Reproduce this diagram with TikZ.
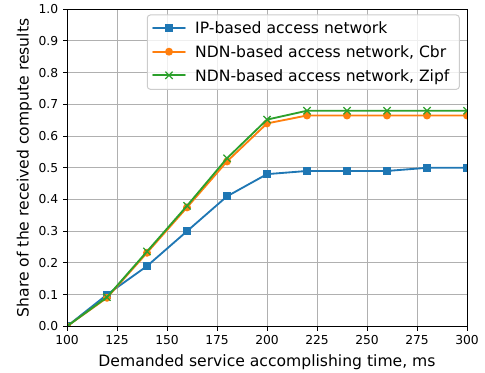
\documentclass[tikz,border=0pt]{standalone}
\usepackage{fontspec}
\setmainfont{DejaVu Sans}
\usetikzlibrary{positioning,shapes.misc}

\definecolor{ipblue}{HTML}{1F77B4}
\definecolor{cbrorange}{HTML}{FF7F0E}
\definecolor{zipfgreen}{HTML}{2CA02C}
\definecolor{gridgray}{HTML}{B0B0B0}
\definecolor{framegray}{HTML}{CCCCCC}

\begin{document}
\begin{tikzpicture}[
    x=1bp,
    y=1bp,
    ticklabel/.style={
        font=\fontsize{12.3bp}{14bp}\selectfont,
        inner sep=0pt
    },
    axistitle/.style={
        font=\fontsize{15.6bp}{18bp}\selectfont,
        inner sep=0pt
    },
    legendtext/.style={
        font=\fontsize{15.6bp}{18bp}\selectfont,
        inner sep=0pt,
        anchor=base west
    },
    gridline/.style={draw=gridgray, line width=1bp},
    spine/.style={draw=black, line width=1bp},
    series/.style={line width=1.85bp, line join=round, line cap=round},
    sqmark/.style={rectangle, inner sep=0pt, minimum size=8bp, fill=#1},
    dotmark/.style={circle, inner sep=0pt, minimum size=8bp, fill=#1},
    crossmark/.style={cross out, draw=#1, line width=1.25bp, inner sep=0pt, minimum size=6bp}
]
    \useasboundingbox (0,0) rectangle (485,372);

    % Axes in data units
    \begin{scope}[x=2bp, y=317bp, shift={(-133bp,45.7bp)}]
        % Grid
        \foreach \t in {100,125,...,300}
            \draw[gridline] (\t,0) -- (\t,1);
        \foreach \s in {0,...,10}
            \draw[gridline] (100,\s/10) -- (300,\s/10);

        % Data points
        \foreach \t/\s [count=\k] in {100/0, 120/0.1, 140/0.19, 160/0.30, 180/0.41, 200/0.48,
                220/0.49, 240/0.49, 260/0.49, 280/0.50, 300/0.50}
            \coordinate (ip\k) at (\t,\s);
        \foreach \t/\s [count=\k] in {100/0, 120/0.09, 140/0.232, 160/0.375, 180/0.52, 200/0.64,
                220/0.665, 240/0.665, 260/0.665, 280/0.665, 300/0.665}
            \coordinate (cbr\k) at (\t,\s);
        \foreach \t/\s [count=\k] in {100/0, 120/0.092, 140/0.236, 160/0.38, 180/0.53, 200/0.652,
                220/0.68, 240/0.68, 260/0.68, 280/0.68, 300/0.68}
            \coordinate (zipf\k) at (\t,\s);

        % Series
        \begin{scope}
            \clip (100,0) rectangle (300,1);
            \draw[series, ipblue] (ip1) \foreach \k in {2,...,11} { -- (ip\k) };
            \foreach \k in {1,...,11}
                \node[sqmark=ipblue] (ipm\k) at (ip\k) {};
            \draw[series, cbrorange] (cbr1) \foreach \k in {2,...,11} { -- (cbr\k) };
            \foreach \k in {1,...,11}
                \node[dotmark=cbrorange] (cbrm\k) at (cbr\k) {};
            \draw[series, zipfgreen] (zipf1) \foreach \k in {2,...,11} { -- (zipf\k) };
            \foreach \k in {1,...,11}
                \node[crossmark=zipfgreen] (zipfm\k) at (zipf\k) {};
        \end{scope}

        % Frame and ticks
        \draw[spine] (100,0) rectangle (300,1);
        \foreach \t in {100,125,...,300} {
            \draw[spine] (\t,0) -- ++(0,-4.3bp);
            \node[ticklabel, anchor=north] (xlab\t) at ([yshift=-8.6bp]\t,0) {\t};
        }
        \foreach \s/\lab in {0/0.0, 1/0.1, 2/0.2, 3/0.3, 4/0.4, 5/0.5, 6/0.6, 7/0.7, 8/0.8, 9/0.9, 10/1.0} {
            \draw[spine] (100,\s/10) -- ++(-4.3bp,0);
            \node[ticklabel, anchor=east] (ylab\s) at ([xshift=-8.6bp]100,\s/10) {\lab};
        }
    \end{scope}

    % Axis titles
    \node[axistitle, anchor=base] (xtitle) at (267,5.3) {Demanded service accomplishing time, ms};
    \node[axistitle, anchor=base, rotate=90] (ytitle) at (28.5,204.2) {Share of the received compute results};

    % Legend
    \draw[draw=framegray, fill=white, fill opacity=0.8, line width=1bp, rounded corners=3bp]
        (147.3,282.7) rectangle (459.3,357);
    \coordinate (legA) at (153,344.3);
    \coordinate (legB) at (153,320.3);
    \coordinate (legC) at (153,296.7);
    \draw[series, ipblue] (legA) -- ++(32,0);
    \node[sqmark=ipblue] (legAm) at ([xshift=16bp]legA) {};
    \draw[series, cbrorange] (legB) -- ++(32,0);
    \node[dotmark=cbrorange] (legBm) at ([xshift=16bp]legB) {};
    \draw[series, zipfgreen] (legC) -- ++(32,0);
    \node[crossmark=zipfgreen] (legCm) at ([xshift=16bp]legC) {};
    \node[legendtext] (legip) at (195,338.7) {IP-based access network};
    \node[legendtext] (legcbr) at (195,314.7) {NDN-based access network, Cbr};
    \node[legendtext] (legzipf) at (195,290.9) {NDN-based access network, Zipf};
\end{tikzpicture}
\end{document}
